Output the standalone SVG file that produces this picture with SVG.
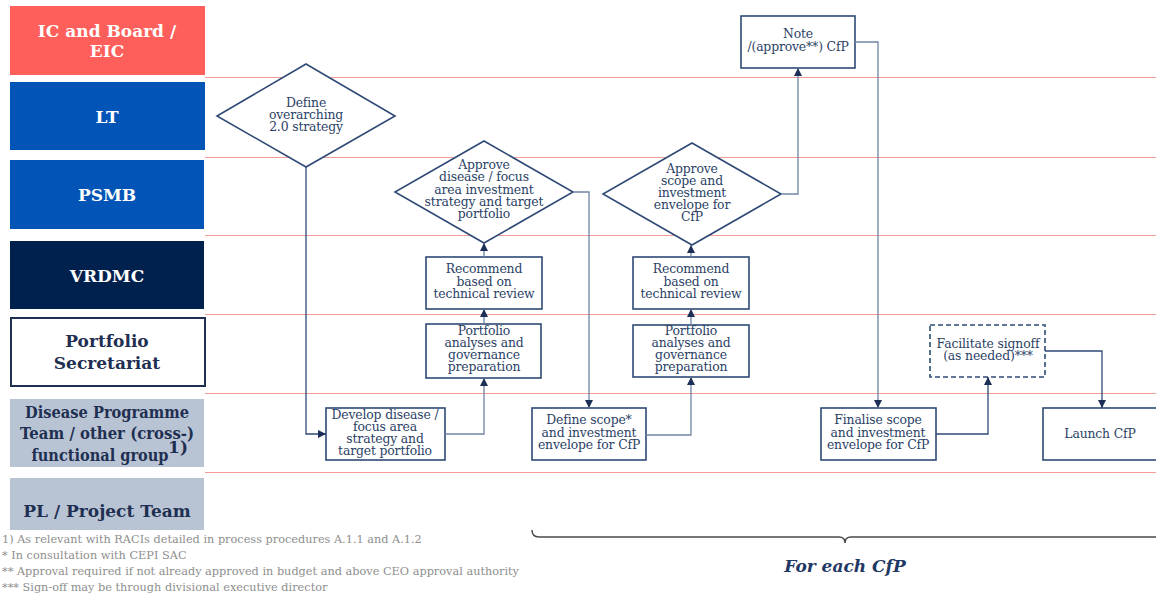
<svg xmlns="http://www.w3.org/2000/svg" width="1156" height="599" viewBox="0 0 1156 599">
  <style>
    .lane-line { stroke: #F39C98; stroke-width: 1; }
    .lane-lbl { font-family: "DejaVu Serif", "Liberation Serif", serif; font-weight: bold; font-size: 17px; text-anchor: middle; }
    .lbl-w { fill: #FFFFFF; }
    .lbl-n { fill: #1F2F52; }
    .node { fill: #FFFFFF; stroke: #2F4A75; stroke-width: 1.6; }
    .dashed { stroke-dasharray: 5 3; }
    .ntxt { font-family: "DejaVu Serif", "Liberation Serif", serif; font-size: 12.4px; fill: #2B3F66; text-anchor: middle; letter-spacing: -0.15px; }
    .conn { fill: none; stroke: #7085A6; stroke-width: 1.3; marker-end: url(#arr); }
    .conn-dark { stroke: #2F4A75; }
    .foot { font-family: "DejaVu Serif", "Liberation Serif", serif; font-size: 11.3px; fill: #8E8E8E; }
  </style>
  <defs>
    <marker id="arr" markerWidth="8" markerHeight="8" refX="8" refY="4" orient="auto" markerUnits="userSpaceOnUse">
      <path d="M0,0 L8,4 L0,8 z" fill="#1C2F57"/>
    </marker>
  </defs>

  <rect width="1156" height="599" fill="#FFFFFF"/>

  <!-- swimlane separators -->
  <g id="lane-lines">
    <line class="lane-line" x1="205" y1="77.5" x2="1156" y2="77.5"/>
    <line class="lane-line" x1="205" y1="157.5" x2="1156" y2="157.5"/>
    <line class="lane-line" x1="205" y1="235.5" x2="1156" y2="235.5"/>
    <line class="lane-line" x1="205" y1="314.5" x2="1156" y2="314.5"/>
    <line class="lane-line" x1="205" y1="393.5" x2="1156" y2="393.5"/>
    <line class="lane-line" x1="205" y1="472.5" x2="1156" y2="472.5"/>
  </g>

  <!-- swimlane headers -->
  <g id="lane-ic">
    <rect x="10" y="6" width="195" height="69" fill="#FF5F5A"/>
    <text class="lane-lbl lbl-w" x="107" y="37">IC and Board /</text>
    <text class="lane-lbl lbl-w" x="107" y="57">EIC</text>
  </g>
  <g id="lane-lt">
    <rect x="10" y="82" width="195" height="68" fill="#0255B7"/>
    <text class="lane-lbl lbl-w" x="107" y="123">LT</text>
  </g>
  <g id="lane-psmb">
    <rect x="10" y="160" width="194" height="69" fill="#0255B7"/>
    <text class="lane-lbl lbl-w" x="107" y="201">PSMB</text>
  </g>
  <g id="lane-vrdmc">
    <rect x="10" y="241" width="194" height="68" fill="#00214D"/>
    <text class="lane-lbl lbl-w" x="107" y="282">VRDMC</text>
  </g>
  <g id="lane-ps">
    <rect x="11" y="318" width="194" height="68" fill="#FFFFFF" stroke="#1F2F52" stroke-width="2"/>
    <text class="lane-lbl lbl-n" x="107" y="347">Portfolio</text>
    <text class="lane-lbl lbl-n" x="107" y="369">Secretariat</text>
  </g>
  <g id="lane-dpt">
    <rect x="10" y="399" width="194" height="68" fill="#B8C4D3"/>
    <text class="lane-lbl lbl-n" x="107" y="418" font-size="16.5" textLength="164" lengthAdjust="spacingAndGlyphs">Disease Programme</text>
    <text class="lane-lbl lbl-n" x="107" y="439" font-size="16.5" textLength="174" lengthAdjust="spacingAndGlyphs">Team / other (cross-)</text>
    <text class="lane-lbl lbl-n" x="100" y="461" font-size="16.5" textLength="137" lengthAdjust="spacingAndGlyphs">functional group</text>
    <text class="lane-lbl lbl-n" x="178" y="453" font-size="9.5">1)</text>
  </g>
  <g id="lane-pl">
    <rect x="10" y="478" width="194" height="52" fill="#B8C4D3"/>
    <text class="lane-lbl lbl-n" x="107" y="517">PL / Project Team</text>
  </g>

  <!-- process steps -->
  <g id="n-define-strategy">
    <polygon class="node" points="306,64 395,116 306,167 217,116"/>
    <text class="ntxt" x="306" y="107">Define</text>
    <text class="ntxt" x="306" y="119">overarching</text>
    <text class="ntxt" x="306" y="131">2.0 strategy</text>
  </g>
  <g id="n-develop">
    <rect class="node" x="326" y="408" width="119" height="52"/>
    <text class="ntxt" x="385" y="419">Develop disease /</text>
    <text class="ntxt" x="385" y="431">focus area</text>
    <text class="ntxt" x="385" y="443">strategy and</text>
    <text class="ntxt" x="385" y="455">target portfolio</text>
  </g>
  <g id="n-portfolio-1">
    <rect class="node" x="426" y="324" width="115" height="54"/>
    <text class="ntxt" x="484" y="335">Portfolio</text>
    <text class="ntxt" x="484" y="347">analyses and</text>
    <text class="ntxt" x="484" y="359">governance</text>
    <text class="ntxt" x="484" y="371">preparation</text>
  </g>
  <g id="n-recommend-1">
    <rect class="node" x="426" y="257" width="116" height="52"/>
    <text class="ntxt" x="484" y="273">Recommend</text>
    <text class="ntxt" x="484" y="286">based on</text>
    <text class="ntxt" x="484" y="298">technical review</text>
  </g>
  <g id="n-approve-strategy">
    <polygon class="node" points="484,141 573,192 484,243 395,192"/>
    <text class="ntxt" x="484" y="169">Approve</text>
    <text class="ntxt" x="484" y="181">disease / focus</text>
    <text class="ntxt" x="484" y="194">area investment</text>
    <text class="ntxt" x="484" y="206">strategy and target</text>
    <text class="ntxt" x="484" y="218">portfolio</text>
  </g>
  <g id="n-define-scope">
    <rect class="node" x="532" y="408" width="114" height="52"/>
    <text class="ntxt" x="589" y="424">Define scope*</text>
    <text class="ntxt" x="589" y="437">and investment</text>
    <text class="ntxt" x="589" y="449">envelope for CfP</text>
  </g>
  <g id="n-portfolio-2">
    <rect class="node" x="633" y="325" width="116" height="52"/>
    <text class="ntxt" x="691" y="335">Portfolio</text>
    <text class="ntxt" x="691" y="347">analyses and</text>
    <text class="ntxt" x="691" y="359">governance</text>
    <text class="ntxt" x="691" y="371">preparation</text>
  </g>
  <g id="n-recommend-2">
    <rect class="node" x="633" y="257" width="116" height="52"/>
    <text class="ntxt" x="691" y="273">Recommend</text>
    <text class="ntxt" x="691" y="286">based on</text>
    <text class="ntxt" x="691" y="298">technical review</text>
  </g>
  <g id="n-approve-scope">
    <polygon class="node" points="692,143 781,194 692,245 603,194"/>
    <text class="ntxt" x="692" y="173">Approve</text>
    <text class="ntxt" x="692" y="185">scope and</text>
    <text class="ntxt" x="692" y="197">investment</text>
    <text class="ntxt" x="692" y="209">envelope for</text>
    <text class="ntxt" x="692" y="221">CfP</text>
  </g>
  <g id="n-note">
    <rect class="node" x="741" y="16" width="114" height="52"/>
    <text class="ntxt" x="798" y="38">Note</text>
    <text class="ntxt" x="798" y="51">/(approve**) CfP</text>
  </g>
  <g id="n-finalise">
    <rect class="node" x="821" y="408" width="115" height="52"/>
    <text class="ntxt" x="878" y="424">Finalise scope</text>
    <text class="ntxt" x="878" y="437">and investment</text>
    <text class="ntxt" x="878" y="449">envelope for CfP</text>
  </g>
  <g id="n-facilitate">
    <rect class="node dashed" x="930" y="325" width="115" height="52"/>
    <text class="ntxt" x="988" y="348">Facilitate signoff</text>
    <text class="ntxt" x="988" y="360">(as needed)***</text>
  </g>
  <g id="n-launch">
    <rect class="node" x="1043" y="408" width="116" height="52"/>
    <text class="ntxt" x="1100" y="438">Launch CfP</text>
  </g>

  <!-- connectors -->
  <g id="connectors">
    <path class="conn conn-dark" d="M306,167 V434 H326"/>
    <path class="conn" d="M445,434 H484 V378"/>
    <path class="conn" d="M484,324 V309"/>
    <path class="conn" d="M484,257 V243"/>
    <path class="conn" d="M573,192 H589 V408"/>
    <path class="conn" d="M646,435 H691 V377"/>
    <path class="conn" d="M691,325 V309"/>
    <path class="conn" d="M691,257 V245"/>
    <path class="conn" d="M781,194 H798 V68"/>
    <path class="conn" d="M855,42 H878 V408"/>
    <path class="conn conn-dark" d="M936,434 H988 V377"/>
    <path class="conn conn-dark" d="M1045,351 H1102 V408"/>
  </g>

  <!-- scope bracket -->
  <g id="cfp-bracket">
    <path d="M532,530 Q532,537 539,537 H839 Q845,537 845,543 Q845,537 851,537 H1156" fill="none" stroke="#4A4A4A" stroke-width="1.5"/>
    <text x="845" y="572" font-family="DejaVu Serif, Liberation Serif, serif" font-size="17" font-weight="bold" font-style="italic" fill="#1F3864" text-anchor="middle">For each CfP</text>
  </g>

  <!-- footnotes -->
  <g id="footnotes">
    <text class="foot" x="2" y="543">1) As relevant with RACIs detailed in process procedures A.1.1 and A.1.2</text>
    <text class="foot" x="2" y="559">* In consultation with CEPI SAC</text>
    <text class="foot" x="2" y="575">** Approval required if not already approved in budget and above CEO approval authority</text>
    <text class="foot" x="2" y="591">*** Sign-off may be through divisional executive director</text>
  </g>
</svg>
